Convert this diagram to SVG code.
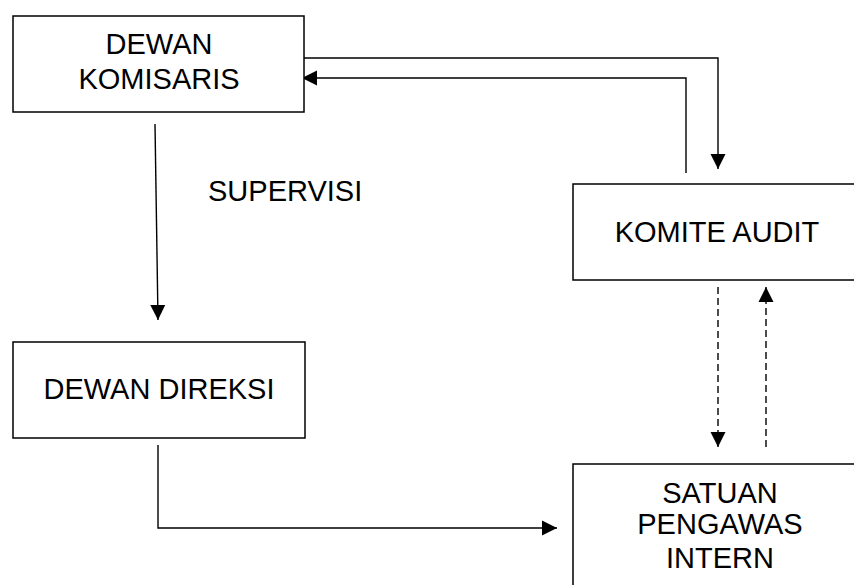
<svg xmlns="http://www.w3.org/2000/svg" width="854" height="585" viewBox="0 0 854 585">
<style>
.box{fill:#fff;stroke:#000;stroke-width:1.5}
.t{font-family:"Liberation Sans",Arial,sans-serif;font-size:29px;fill:#000}
.c{text-anchor:middle}
.ln{fill:none;stroke:#000;stroke-width:1.4}
.d{stroke-dasharray:7 4}
</style>
<defs>
<marker id="ah" markerUnits="userSpaceOnUse" markerWidth="16" markerHeight="16" refX="15" refY="8" orient="auto">
<path d="M0,0.5 L15,8 L0,15.5 z" fill="#000"/>
</marker>
</defs>
<rect width="854" height="585" fill="#fff"/>
<g id="connectors">
<path class="ln" d="M302,58 H718 V169" marker-end="url(#ah)"/>
<path class="ln" d="M686,173 V78 H302" marker-end="url(#ah)"/>
<path class="ln" d="M155,124 L158,320" marker-end="url(#ah)"/>
<path class="ln" d="M158,445 V528 H557" marker-end="url(#ah)"/>
<path class="ln d" d="M718,287 V447" marker-end="url(#ah)"/>
<path class="ln d" d="M766,447 V287" marker-end="url(#ah)"/>
<text class="t" x="208" y="201">SUPERVISI</text>
</g>
<g id="dewan-komisaris">
<rect class="box" x="13" y="16" width="291" height="96"/>
<text class="t c" x="159" y="54">DEWAN</text>
<text class="t c" x="159" y="89">KOMISARIS</text>
</g>
<g id="komite-audit">
<rect class="box" x="573" y="184" width="290" height="96"/>
<text class="t c" x="717" y="242">KOMITE AUDIT</text>
</g>
<g id="dewan-direksi">
<rect class="box" x="13" y="342" width="292" height="96"/>
<text class="t c" x="159" y="399">DEWAN DIREKSI</text>
</g>
<g id="satuan-pengawas-intern">
<rect class="box" x="573" y="464" width="290" height="130"/>
<text class="t c" x="720" y="503">SATUAN</text>
<text class="t c" x="720" y="534">PENGAWAS</text>
<text class="t c" x="720" y="568">INTERN</text>
</g>
</svg>
